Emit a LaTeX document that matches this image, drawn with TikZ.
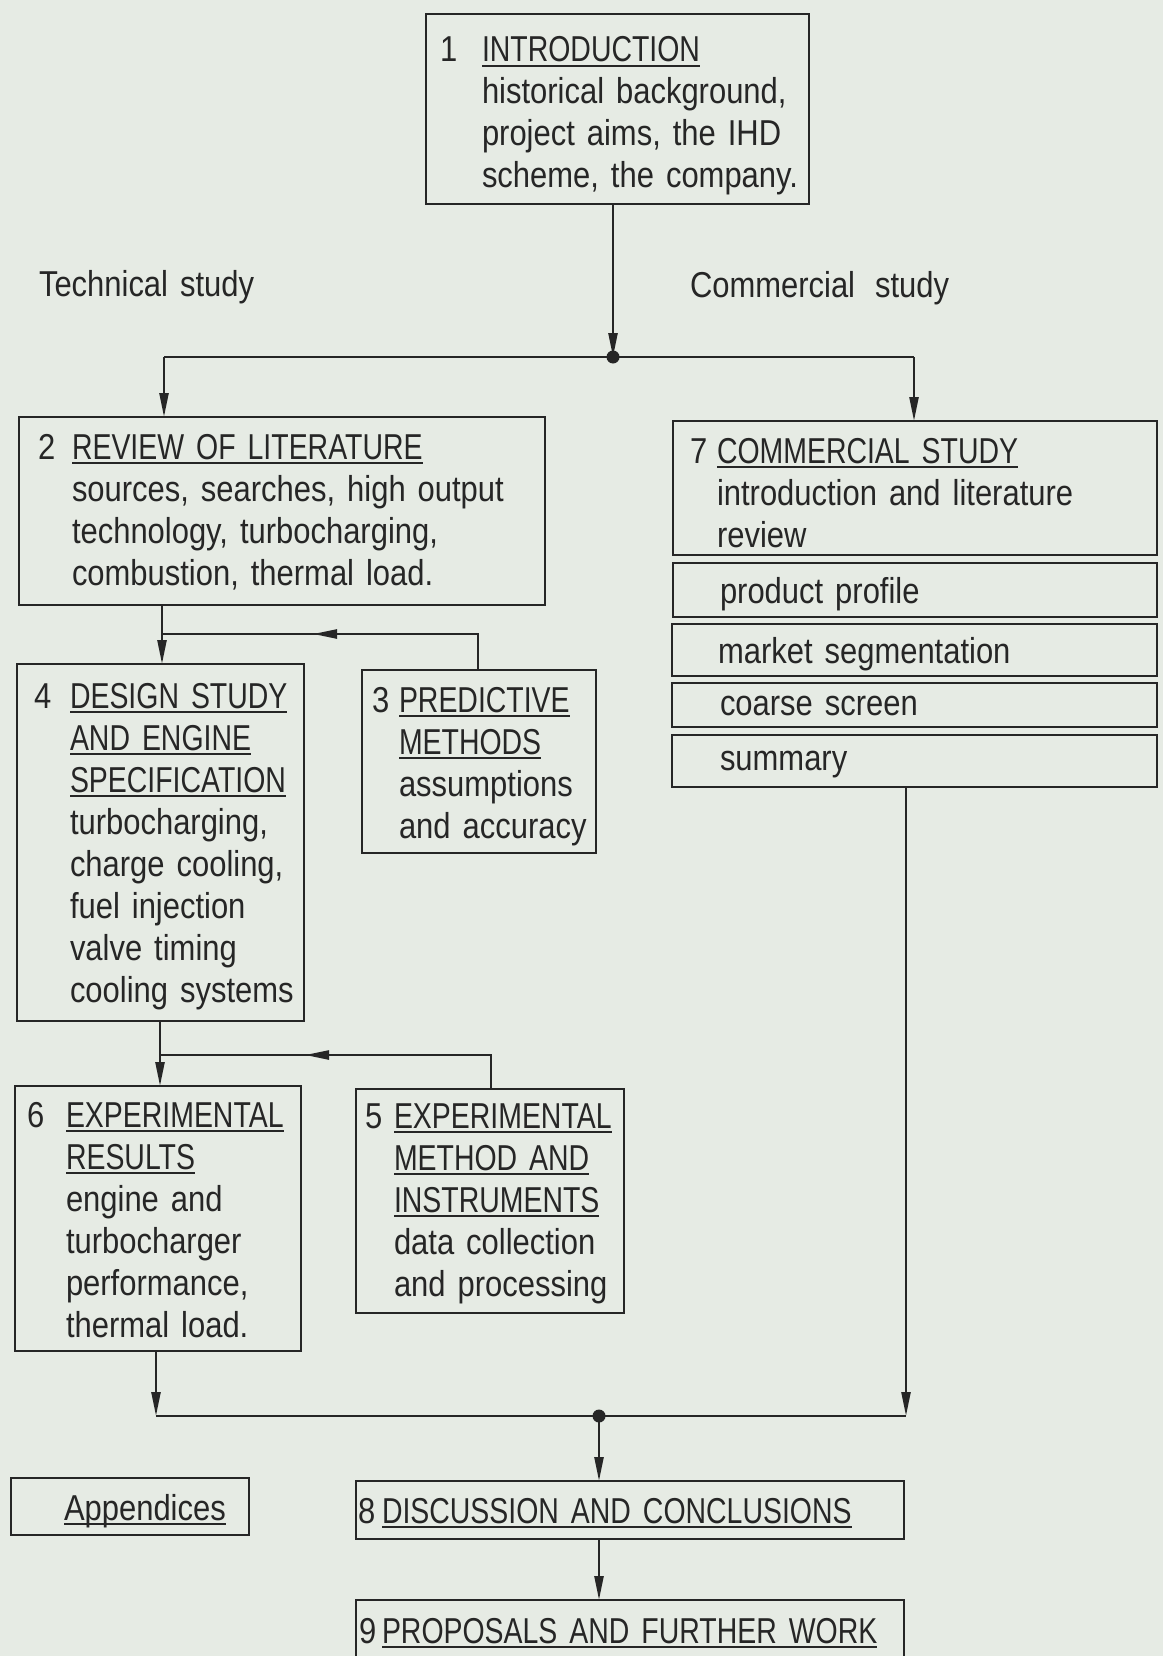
\documentclass[tikz,border=0pt]{standalone}
\usepackage{fontspec}
\setmainfont{Liberation Sans}[FakeStretch=0.86,WordSpace=1.2]
\newfontfamily\capsfont{Liberation Sans}[FakeStretch=0.79]
\usetikzlibrary{arrows.meta}
\definecolor{paper}{RGB}{230,235,228}
\definecolor{ink}{RGB}{38,38,38}
\newsavebox\ulbox
\newcommand{\ulx}[1]{\leavevmode\sbox\ulbox{#1}\rlap{\rule[-5pt]{\wd\ulbox}{2.2pt}}\usebox\ulbox}
\newcommand{\hd}[1]{\ulx{\capsfont #1}}
\newcommand{\num}[2]{\leavevmode\llap{\makebox[#1pt][l]{#2}}}
\tikzset{
  bx/.style={draw=ink, line width=2.4pt, inner sep=0pt, outer sep=0pt, rectangle},
  txt/.style={anchor=base west, inner sep=0pt, outer sep=0pt, align=left, text width=640pt,
    font=\fontsize{36}{42}\selectfont, text=ink},
  conn/.style={draw=ink, line width=2.4pt},
  arr/.style={conn, -{Triangle[length=24pt,width=9pt]}},
}
\begin{document}
\begin{tikzpicture}[x=1pt,y=-1pt]
\useasboundingbox (0,0) rectangle (1163,1656);
\fill[paper] (0,0) rectangle (1163,1656);
\clip (0,0) rectangle (1163,1656);

% boxes
\node[bx, minimum width=383pt, minimum height=190pt] (b1) at (617.5,109) {};
\node[bx, minimum width=526pt, minimum height=188pt] (b2) at (282,511) {};
\node[bx, minimum width=484pt, minimum height=134pt] (b7) at (915,488) {};
\node[bx, minimum width=484pt, minimum height=54pt] (b7a) at (915,590) {};
\node[bx, minimum width=485pt, minimum height=52pt] (b7b) at (914.5,650) {};
\node[bx, minimum width=485pt, minimum height=44pt] (b7c) at (914.5,705) {};
\node[bx, minimum width=485pt, minimum height=52pt] (b7d) at (914.5,761) {};
\node[bx, minimum width=287pt, minimum height=357pt] (b4) at (160.5,842.5) {};
\node[bx, minimum width=234pt, minimum height=183pt] (b3) at (479,761.5) {};
\node[bx, minimum width=286pt, minimum height=265pt] (b6) at (158,1218.5) {};
\node[bx, minimum width=268pt, minimum height=224pt] (b5) at (490,1201) {};
\node[bx, minimum width=548pt, minimum height=58pt] (b8) at (630,1510) {};
\node[bx, minimum width=548pt, minimum height=100pt] (b9) at (630,1650) {};
\node[bx, minimum width=238pt, minimum height=57pt] (app) at (130,1506.5) {};

% texts
\node[txt] (t1) at (482,62) {\num{42}{1}\hd{INTRODUCTION}\\historical background,\\project aims, the IHD\\scheme, the company.};
\node[txt] (tech) at (39,296) {Technical study};
\node[txt] (comm) at (690,297) {Commercial\hspace{8pt} study};
\node[txt] (t2) at (72,459) {\num{34}{2}\hd{REVIEW OF LITERATURE}\\sources, searches, high output\\technology, turbocharging,\\combustion, thermal load.};
\node[txt] (t7) at (717,463) {\num{27}{7}\hd{COMMERCIAL STUDY}\\introduction and literature\\review};
\node[txt] (t7a) at (720,603) {product profile};
\node[txt] (t7b) at (718,663) {market segmentation};
\node[txt] (t7c) at (720,715) {coarse screen};
\node[txt] (t7d) at (720,770) {summary};
\node[txt] (t4) at (70,708) {\num{36}{4}\hd{DESIGN STUDY}\\\hd{AND ENGINE}\\\hd{SPECIFICATION}\\turbocharging,\\charge cooling,\\fuel injection\\valve timing\\cooling systems};
\node[txt] (t3) at (399,712) {\num{27}{3}\hd{PREDICTIVE}\\\hd{METHODS}\\assumptions\\and accuracy};
\node[txt] (t6) at (66,1127) {\num{39}{6}\hd{EXPERIMENTAL}\\\hd{RESULTS}\\engine and\\turbocharger\\performance,\\thermal load.};
\node[txt] (t5) at (394,1128) {\num{29}{5}\hd{EXPERIMENTAL}\\\hd{METHOD AND}\\\hd{INSTRUMENTS}\\data collection\\and processing};
\node[txt] (t8) at (382,1523) {\num{24}{8}\hd{DISCUSSION AND CONCLUSIONS}};
\node[txt] (t9) at (382,1643) {\num{23}{9}\hd{PROPOSALS AND FURTHER WORK}};
\node[txt] (tapp) at (64,1520) {\ulx{Appendices}};

% connectors
\coordinate (j1) at (613,357);
\coordinate (l1) at (164,357);
\coordinate (r1) at (914,357);
\draw[arr] (b1.south -| j1) -- (j1);
\draw[conn] (l1) -- (r1);
\draw[arr] (l1) -- (l1 |- b2.north);
\draw[arr] (r1) -- (r1 |- b7.north);
\fill[ink] (j1) circle (6.5);

\coordinate (j2) at (162,634);
\coordinate (k3) at (478,634);
\coordinate (m3) at (313,634);
\draw[arr] (j2 |- b2.south) -- (j2 |- b4.north);
\draw[conn] (k3 |- b3.north) -- (k3) -- (j2);
\draw[arr] (k3) -- (m3);

\coordinate (j4) at (160,1055);
\coordinate (k5) at (491,1055);
\coordinate (m5) at (305,1055);
\draw[arr] (j4 |- b4.south) -- (j4 |- b6.north);
\draw[conn] (k5 |- b5.north) -- (k5) -- (j4);
\draw[arr] (k5) -- (m5);

\coordinate (q6) at (156,1416);
\coordinate (q7) at (906,1416);
\coordinate (j8) at (599,1416);
\draw[arr] (q6 |- b6.south) -- (q6);
\draw[arr] (q7 |- b7d.south) -- (q7);
\draw[conn] (q6) -- (q7);
\fill[ink] (j8) circle (6.5);
\draw[arr] (j8) -- (j8 |- b8.north);
\draw[arr] (j8 |- b8.south) -- (j8 |- b9.north);
\end{tikzpicture}
\end{document}
